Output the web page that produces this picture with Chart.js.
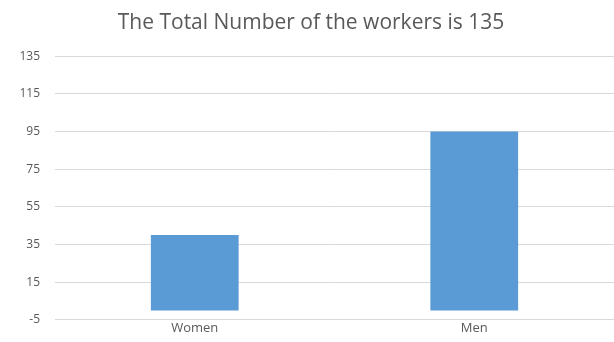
<!DOCTYPE html>
<html lang="en">
<head>
  <meta charset="utf-8">
  <title>The Total Number of the workers is 135</title>
  <style type="text/css">
    html, body {
      margin: 0;
      padding: 0;
      background-color: #ffffff;
    }
    #wrap {
      width: 614px;
      height: 342px;
    }
  </style>
  <script src="https://cdn.jsdelivr.net/npm/chart.js@4/dist/chart.umd.min.js"></script>
</head>
<body>
  <div id="wrap"><canvas id="graph" width="614" height="342"></canvas></div>
  <script>
    // data
    var categories = ['Women', 'Men'];
    var workers = [40, 95];
    var tickValues = [-5, 15, 35, 55, 75, 95, 115, 135];

    var ctx = document.getElementById('graph').getContext('2d');
    window.myChart = new Chart(ctx, {
      type: 'bar',
      data: {
        labels: categories,
        datasets: [
          {
            data: workers,
            backgroundColor: '#5b9bd5',
            barPercentage: 1,
            categoryPercentage: 0.314
          }
        ]
      },
      options: {
        responsive: false,
        animation: false,
        layout: {
          padding: { left: 8, right: 0, top: 0, bottom: 0 }
        },
        plugins: {
          legend: { display: false },
          tooltip: { enabled: false },
          title: {
            display: true,
            text: 'The Total Number of the workers is 135',
            color: '#595959',
            font: { family: '"Open Sans", sans-serif', size: 21, weight: 'normal' },
            padding: { top: 10, bottom: 21 }
          }
        },
        scales: {
          x: {
            afterFit: function (axis) { axis.height = 13; },
            grid: { display: false, drawTicks: false },
            border: { display: false },
            ticks: {
              color: '#595959',
              font: { family: '"Open Sans", sans-serif', size: 13 },
              padding: 1
            }
          },
          y: {
            min: -5,
            max: 135,
            afterBuildTicks: function (axis) {
              axis.ticks = tickValues.map(function (v) { return { value: v }; });
            },
            afterFit: function (axis) { axis.width = 47; },
            grid: { color: '#d9d9d9', drawTicks: false, lineWidth: 1 },
            border: { display: false },
            ticks: {
              color: '#595959',
              font: { family: '"Open Sans", sans-serif', size: 12 },
              padding: 15
            }
          }
        }
      }
    });
  </script>
</body>
</html>
